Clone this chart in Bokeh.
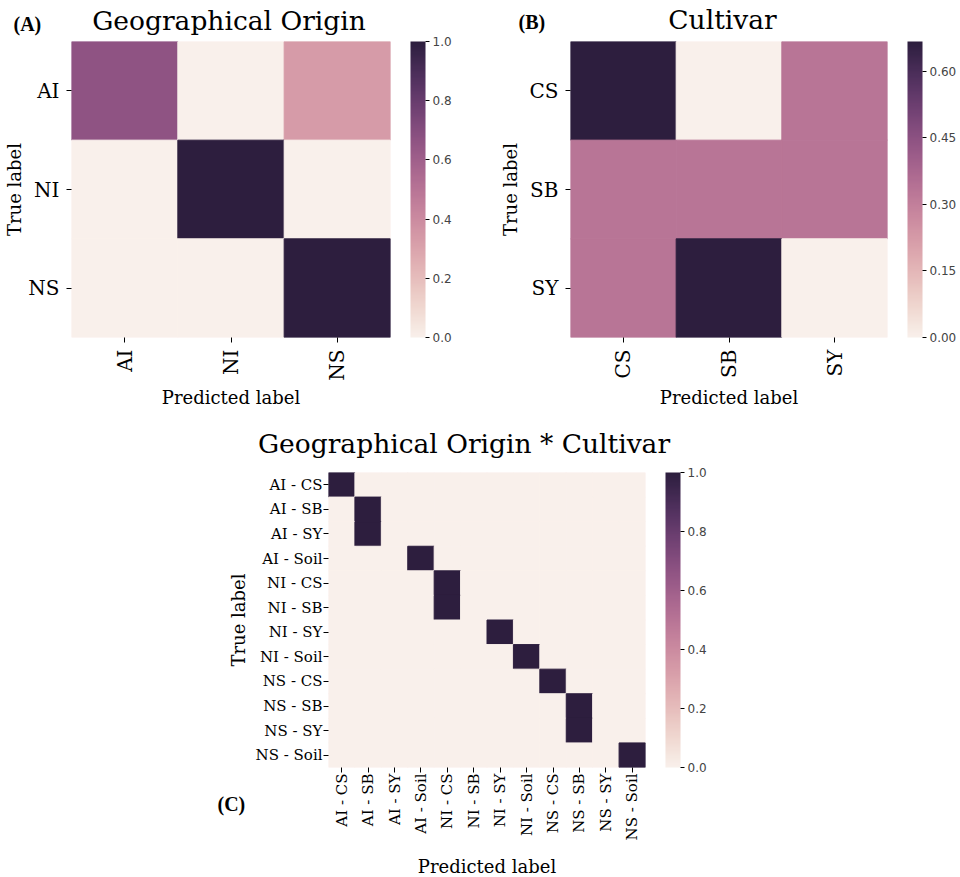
import numpy as np
from bokeh.plotting import figure
from bokeh.models import (ColumnDataSource, LinearColorMapper, ColorBar, FixedTicker,
                          PrintfTickFormatter, Label, FactorRange, Spacer, Range1d)
from bokeh.layouts import column, row
from bokeh.transform import transform
from bokeh.embed import file_html
from bokeh.resources import INLINE

# ---------------- data ----------------
geo_labels = ["AI", "NI", "NS"]
geo_matrix = [[0.667, 0.0, 0.333],
              [0.0, 1.0, 0.0],
              [0.0, 0.0, 1.0]]
geo_ticks = [0.0, 0.2, 0.4, 0.6, 0.8, 1.0]

cult_labels = ["CS", "SB", "SY"]
cult_matrix = [[0.667, 0.0, 0.333],
               [0.333, 0.333, 0.333],
               [0.333, 0.667, 0.0]]
cult_ticks = [0.0, 0.15, 0.30, 0.45, 0.60]

combo_labels = ["AI - CS", "AI - SB", "AI - SY", "AI - Soil",
                "NI - CS", "NI - SB", "NI - SY", "NI - Soil",
                "NS - CS", "NS - SB", "NS - SY", "NS - Soil"]
# predicted label for each true label (proportion 1.0); all other cells are 0
combo_predicted = ["AI - CS", "AI - SB", "AI - SB", "AI - Soil",
                   "NI - CS", "NI - CS", "NI - SY", "NI - Soil",
                   "NS - CS", "NS - SB", "NS - SB", "NS - Soil"]
combo_ticks = [0.0, 0.2, 0.4, 0.6, 0.8, 1.0]

combo_matrix = [[1.0 if combo_predicted[i] == c else 0.0 for c in combo_labels]
                for i in range(len(combo_labels))]

title_a = "Geographical Origin"
title_b = "Cultivar"
title_c = "Geographical Origin * Cultivar"


# ---------------- colour map (seaborn cubehelix_palette, light=.95) ----------------
def cubehelix_hex(n=256, start=0.0, rot=0.4, gamma=1.0, hue=0.8, light=0.95, dark=0.15):
    x = np.linspace(light, dark, n)
    xg = x ** gamma
    a = hue * xg * (1 - xg) / 2
    phi = 2 * np.pi * (start / 3 + rot * x)
    r = xg + a * (-0.14861 * np.cos(phi) + 1.78277 * np.sin(phi))
    g = xg + a * (-0.29227 * np.cos(phi) - 0.90649 * np.sin(phi))
    b = xg + a * (1.97294 * np.cos(phi))
    out = []
    for rr, gg, bb in zip(r, g, b):
        out.append("#%02x%02x%02x" % tuple(int(round(255 * min(max(v, 0), 1))) for v in (rr, gg, bb)))
    return out


PALETTE = cubehelix_hex()
SERIF = "DejaVu Serif"
SANS = "DejaVu Sans"
BOLD_SERIF = "Liberation Serif"


def heatmap(labels, matrix, vmax, ticks, fmt, fw, fh, bl, br, bt, bb,
            tick_size, tick_standoff, xl_standoff, yl_standoff):
    xs, ys, vs = [], [], []
    for i, t in enumerate(labels):
        for j, pcol in enumerate(labels):
            xs.append(pcol)
            ys.append(t)
            vs.append(matrix[i][j])
    src = ColumnDataSource(dict(x=xs, y=ys, v=vs))
    mapper = LinearColorMapper(palette=PALETTE, low=0.0, high=vmax)
    p = figure(x_range=FactorRange(factors=labels), y_range=FactorRange(factors=labels[::-1]),
               frame_width=fw, frame_height=fh, title=None,
               min_border_left=bl, min_border_right=br, min_border_top=bt, min_border_bottom=bb,
               output_backend="svg", toolbar_location=None)
    p.rect(x="x", y="y", width=1, height=1, source=src,
           fill_color=transform("v", mapper), line_color=transform("v", mapper), line_width=1)
    p.grid.visible = False
    p.outline_line_color = None
    for ax in (p.xaxis, p.yaxis):
        ax.axis_line_color = None
        ax.major_tick_in = 0
        ax.major_tick_out = 5
        ax.major_tick_line_color = "black"
        ax.major_label_text_font = SERIF
        ax.major_label_text_font_size = tick_size
        ax.major_label_text_color = "black"
        ax.major_label_standoff = tick_standoff
        ax.axis_label_text_font = SERIF
        ax.axis_label_text_font_size = "18px"
        ax.axis_label_text_font_style = "normal"
        ax.axis_label_text_color = "black"
    p.xaxis.major_label_orientation = np.pi / 2
    p.xaxis.axis_label = "Predicted label"
    p.yaxis.axis_label = "True label"
    p.xaxis.axis_label_standoff = xl_standoff
    p.yaxis.axis_label_standoff = yl_standoff

    cb = ColorBar(color_mapper=mapper, ticker=FixedTicker(ticks=ticks),
                  formatter=PrintfTickFormatter(format=fmt),
                  width=15, height=fh, padding=0, margin=0, location=(20, 0),
                  bar_line_color=None, major_tick_in=0, major_tick_out=4,
                  major_tick_line_color="black", label_standoff=3,
                  major_label_text_font=SANS, major_label_text_font_size="12px",
                  background_fill_color=None, border_line_color=None)
    p.add_layout(cb, "right")
    return p


def strip(height):
    s = figure(frame_width=960, frame_height=height, title=None,
               x_range=Range1d(0, 960), y_range=Range1d(0, height),
               x_axis_type=None, y_axis_type=None,
               min_border=0, min_border_left=0, min_border_right=0,
               min_border_top=0, min_border_bottom=0,
               output_backend="svg", toolbar_location=None)
    s.grid.visible = False
    s.outline_line_color = None
    return s


def put(p, x, bottom_from_top, height, text, font, size, style="normal", align="left"):
    # text box bottom (below descenders) placed bottom_from_top pixels below the strip top
    p.add_layout(Label(x=x, y=height - bottom_from_top, text=text,
                       text_font=font, text_font_size=size, text_font_style=style,
                       text_align=align, text_baseline="bottom", text_color="black"))


# ---- title strip above panels A and B ----
H1 = 36
s1 = strip(H1)
put(s1, 13, 34.3, H1, "(A)", BOLD_SERIF, "20px", style="bold")
put(s1, 228.5, 35.9, H1, title_a, SERIF, "26.5px", align="center")
put(s1, 518, 32.3, H1, "(B)", BOLD_SERIF, "20px", style="bold")
put(s1, 722, 34.4, H1, title_b, SERIF, "26.5px", align="center")

# Panel A
pA = heatmap(geo_labels, geo_matrix, 1.0, geo_ticks, "%.1f", 319, 296, 71, 90, 5, 83,
             "20px", 7, 3, 0)
# Panel B
pB = heatmap(cult_labels, cult_matrix, 0.667, cult_ticks, "%.2f", 317, 296, 90, 73, 1, 87,
             "20px", 7, 5, 5)

# ---- title strip above panel C ----
H2 = 44
s2 = strip(H2)
put(s2, 463.5, 38.4, H2, title_c, SERIF, "26.5px", align="center")

# Panel C
pC = heatmap(combo_labels, combo_matrix, 1.0, combo_ticks, "%.1f", 317, 295, 188, 100, 8, 110,
             "15px", 1, 13, 4)
pC.add_layout(Label(x=21, y=-47.3, x_units="screen", y_units="screen", text="(C)",
                    text_font=BOLD_SERIF, text_font_size="20px",
                    text_font_style="bold", text_color="black",
                    text_baseline="bottom"), "left")

layout = column(s1, row(pA, pB), s2, row(Spacer(width=140, height=10), pC))

open("out.html", "w").write(file_html(layout, INLINE))
